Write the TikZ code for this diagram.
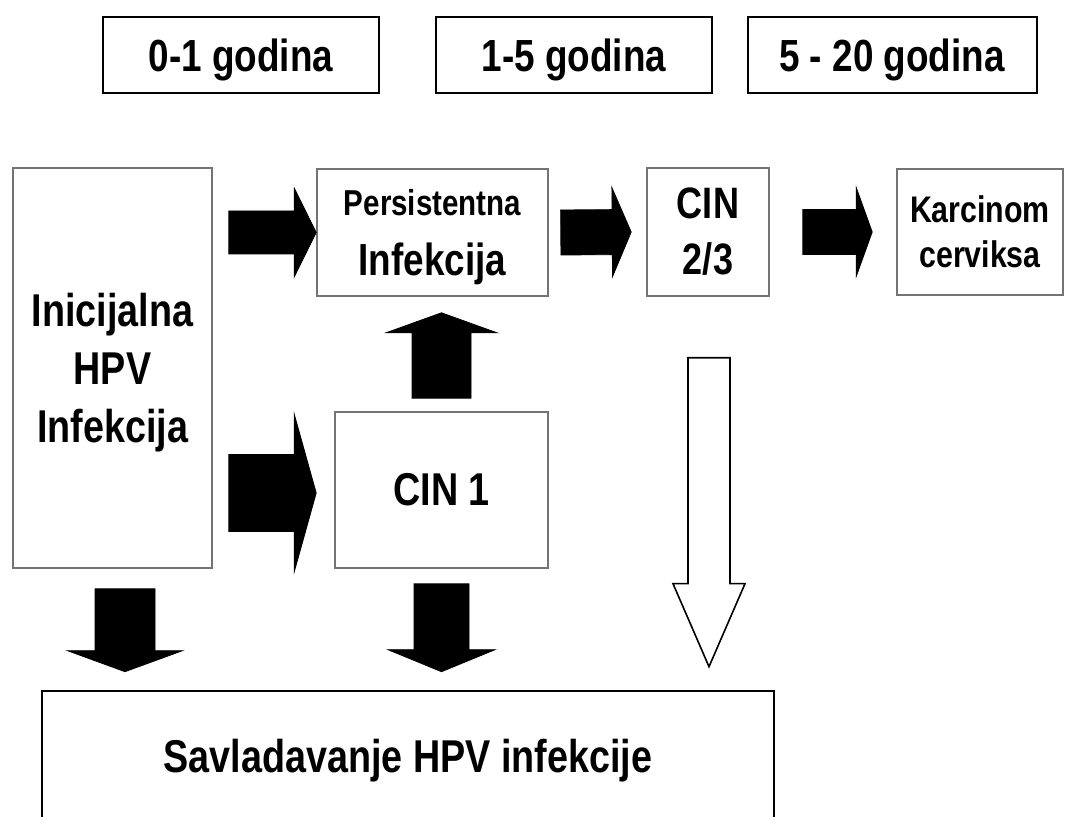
\documentclass[tikz,border=0pt]{standalone}
\usepackage{fontspec}
\setmainfont{Liberation Sans}[FakeStretch=0.82]
\usetikzlibrary{calc}

\tikzset{
  topbox/.style={draw=black, line width=1pt, minimum height=38pt, inner sep=0pt,
    text depth=0pt, font=\bfseries\fontsize{22.5}{27}\selectfont},
  gbox/.style={draw=black!55, line width=0.8pt, inner sep=0pt, align=center,
    font=\bfseries\fontsize{23}{29}\selectfont},
  savbox/.style={draw=black, line width=1.3pt, inner sep=0pt,
    font=\bfseries\fontsize{23}{29}\selectfont},
  solidarrow/.style={fill=black},
  hollowarrow/.style={draw=black, line width=0.8pt, fill=white}
}

% #2 from, #3 to, #4 half shaft, #5 half head, #6 head length
\newcommand{\blockarrow}[6][solidarrow]{%
  \coordinate (hb) at ($(#3)!#6!(#2)$);
  \draw[#1] ($(#2)!#4!90:(#3)$) -- ($(hb)!#4!-90:(#2)$) -- ($(hb)!#5!-90:(#2)$)
    -- (#3) -- ($(hb)!#5!90:(#2)$) -- ($(hb)!#4!90:(#2)$)
    -- ($(#2)!#4!-90:(#3)$) -- cycle;
}

\begin{document}
\begin{tikzpicture}[x=0.5pt,y=-0.5pt]
  \useasboundingbox (0,0) rectangle (1066,817);
  \clip (0,0) rectangle (1066,817);

  \node[topbox, minimum width=138pt] (y01) at (241,55) {0-1 godina};
  \node[topbox, minimum width=138pt] (y15) at (574,55) {1-5 godina};
  \node[topbox, minimum width=144.5pt] (y520) at (892,55) {5 - 20 godina};

  \node[gbox, minimum width=99.5pt, minimum height=200pt, text depth=0pt] (ini) at (112.5,368)
    {Inicijalna\\HPV\\Infekcija};
  \node[gbox, minimum width=115.5pt, minimum height=63.5pt, text depth=0pt] (pers) at (432.5,232.5)
    {{\fontsize{18}{22}\selectfont Persistentna}\\[1pt]{\fontsize{22.5}{27}\selectfont Infekcija}};
  \node[gbox, minimum width=61pt, minimum height=64pt,
    font=\bfseries\fontsize{22}{28}\selectfont] (cin23) at (708,232) {CIN\\2/3};
  \node[gbox, minimum width=83pt, minimum height=63pt,
    font=\bfseries\fontsize{18.5}{22.5}\selectfont] (karc) at (980,232) {Karcinom\\cerviksa};
  \node[gbox, minimum width=106.5pt, minimum height=78pt] (cin1) at (441.5,490) {CIN 1};
  \node[savbox, minimum width=366pt, minimum height=69.5pt] (sav) at (408,760.5)
    {Savladavanje HPV infekcije};

  \coordinate (a1s) at ($(ini.east |- pers.west)+(16,0)$);
  \coordinate (a1e) at (pers.west);
  \coordinate (a2s) at ($(ini.east |- cin1.west)+(16,3)$);
  \coordinate (a2e) at ($(cin1.west)+(-18,3)$);
  \coordinate (a3s) at ($(pers.east)+(12,0)$);
  \coordinate (a3e) at ($(cin23.west)+(-15,0)$);
  \coordinate (a4s) at ($(cin23.east)+(33,0)$);
  \coordinate (a4e) at ($(karc.west)+(-24,0)$);
  \coordinate (a5s) at ($(cin1.north)+(0,-13)$);
  \coordinate (a5e) at ($(cin1.north |- pers.south)+(0,16)$);
  \coordinate (a6s) at ($(ini.south)+(12.5,20)$);
  \coordinate (a6e) at ($(a6s |- sav.north)+(0,-18)$);
  \coordinate (a7s) at ($(cin1.south)+(0,15)$);
  \coordinate (a7e) at ($(a7s |- sav.north)+(0,-18)$);
  \coordinate (a8s) at ($(cin23.south)+(1,61)$);
  \coordinate (a8e) at ($(a8s |- sav.north)+(0,-23)$);

  \blockarrow{a1s}{a1e}{10.75pt}{22.25pt}{11pt}
  \blockarrow{a2s}{a2e}{19.25pt}{39.5pt}{11pt}
  \blockarrow{a3s}{a3e}{11.25pt}{22.25pt}{9.5pt}
  \blockarrow{a4s}{a4e}{11.25pt}{22.25pt}{8pt}
  \blockarrow{a5s}{a5e}{14.75pt}{27.75pt}{10pt}
  \blockarrow{a6s}{a6e}{15pt}{28.75pt}{10.5pt}
  \blockarrow{a7s}{a7e}{13.75pt}{26.75pt}{11pt}
  \blockarrow[hollowarrow]{a8s}{a8e}{10.5pt}{18pt}{41.5pt}
\end{tikzpicture}
\end{document}
